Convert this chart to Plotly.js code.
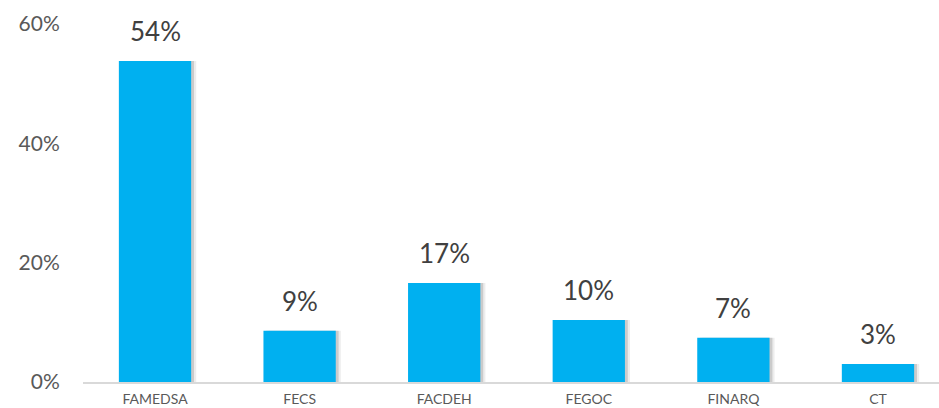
<!DOCTYPE html>
<html><head><meta charset="utf-8">
<script src="https://cdn.plot.ly/plotly-3.0.1.min.js"></script>
<style>html,body{margin:0;padding:0;background:#fff}#c{width:939px;height:408px}</style>
</head><body><div id="c"></div>
<script>
const categories = ["FAMEDSA","FECS","FACDEH","FEGOC","FINARQ","CT"];
const values = [53.8, 8.6, 16.6, 10.4, 7.4, 3.0];
const valueLabels = ["54%","9%","17%","10%","7%","3%"];
const yTickVals = [0, 20, 40, 60];
const yTickText = ["0%","20%","40%","60%"];

const idx = categories.map((c,i)=>i);
const shadowOuter = {
  type:'bar', x: idx.map(i=>i+0.035), y: values, width: 0.5,
  marker:{color:'rgba(0,0,0,0.07)', line:{width:0}}, hoverinfo:'skip', showlegend:false
};
const shadow = {
  type:'bar', x: idx.map(i=>i+0.02), y: values, width: 0.5,
  marker:{color:'rgba(0,0,0,0.14)', line:{width:0}}, hoverinfo:'skip', showlegend:false
};
const bars = {
  type:'bar', x: idx, y: values, width: 0.5,
  marker:{color:'#00B0F0', line:{width:0}}, showlegend:false
};
const annotations = idx.map(i=>({
  x:i, y:values[i], xref:'x', yref:'y', text:valueLabels[i], showarrow:false,
  yanchor:'bottom', yshift:12, font:{family:'Lato, "Noto Sans", sans-serif', size:26, color:'#404040'}
}));
const layout = {
  width:939, height:408, margin:{l:83, r:0, t:24, b:26},
  paper_bgcolor:'#fff', plot_bgcolor:'#fff', barmode:'overlay',
  xaxis:{range:[-0.498,5.422], tickvals:idx, ticktext:categories, showgrid:false, zeroline:false,
    showline:true, linecolor:'#d9d9d9', linewidth:2, ticks:'outside', ticklen:3, tickcolor:'rgba(0,0,0,0)',
    tickfont:{family:'Lato, "Noto Sans", sans-serif', size:14, color:'#595959'}},
  yaxis:{range:[0,60], tickvals:yTickVals, ticktext:yTickText, showgrid:false, zeroline:false, showline:false,
    ticks:'outside', ticklen:18, tickcolor:'rgba(0,0,0,0)',
    tickfont:{family:'Lato, "Noto Sans", sans-serif', size:21, color:'#595959'}},
  annotations: annotations
};
Plotly.newPlot('c',[shadowOuter,shadow,bars],layout,{staticPlot:true});
</script></body></html>
